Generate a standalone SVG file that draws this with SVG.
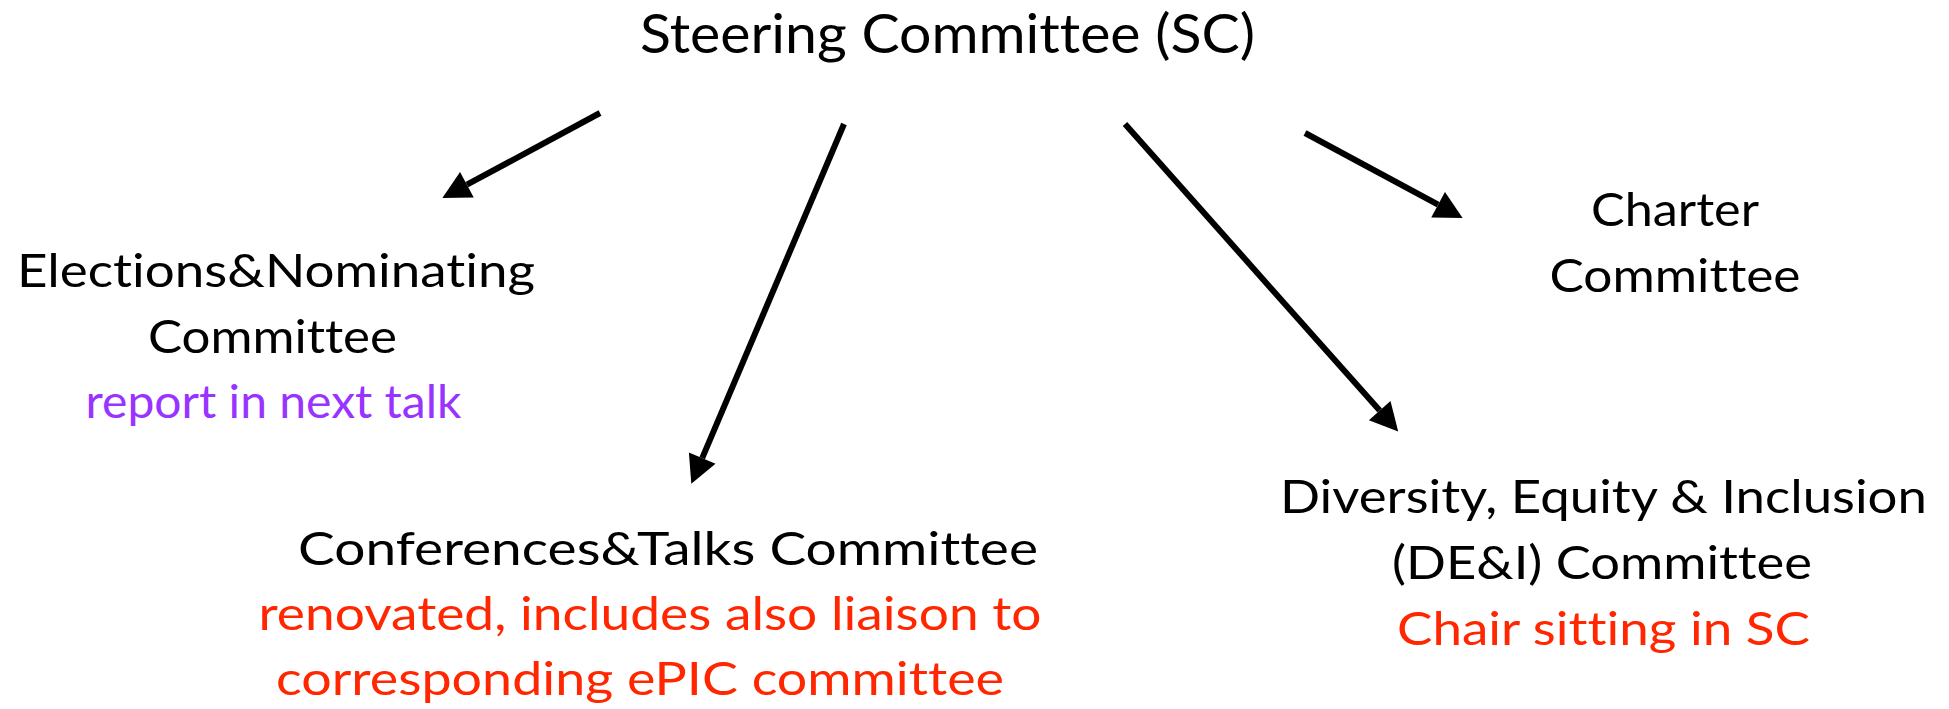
<svg xmlns="http://www.w3.org/2000/svg" width="1949" height="709" viewBox="0 0 1949 709">
<style>
text{font-family:Lato,"Open Sans","Liberation Sans",sans-serif;text-anchor:middle;font-variant-ligatures:none;}
.t{font-size:54px;fill:#000;}
.b{font-size:47px;fill:#000;}
.p{font-size:47px;fill:#9933FF;}
.r{font-size:47px;fill:#FF2600;}
.c{stroke:#000;stroke-width:6;fill:none;marker-end:url(#ah);}
</style>
<defs>
<marker id="ah" markerUnits="userSpaceOnUse" markerWidth="30" markerHeight="30" viewBox="0 -14 27 28" refX="0" refY="0" orient="auto">
<path d="M0,-13.5 L26,0 L0,13.5 Z" fill="#000"/>
</marker>
</defs>
<rect width="1949" height="709" fill="#fff"/>
<g id="sc">
<text class="t" x="947.5" y="53" textLength="615" lengthAdjust="spacingAndGlyphs">Steering Committee (SC)</text>
</g>
<g id="elections">
<text class="b" x="276" y="287" textLength="518" lengthAdjust="spacingAndGlyphs">Elections&amp;Nominating</text>
<text class="b" x="272.5" y="353" textLength="249" lengthAdjust="spacingAndGlyphs">Committee</text>
<text class="p" x="273.5" y="418" textLength="376" lengthAdjust="spacingAndGlyphs">report in next talk</text>
</g>
<g id="charter">
<text class="b" x="1675" y="226" textLength="168" lengthAdjust="spacingAndGlyphs">Charter</text>
<text class="b" x="1675" y="292" textLength="251" lengthAdjust="spacingAndGlyphs">Committee</text>
</g>
<g id="conferences">
<text class="b" x="668" y="565" textLength="740" lengthAdjust="spacingAndGlyphs">Conferences&amp;Talks Committee</text>
<text class="r" x="650" y="630" textLength="783" lengthAdjust="spacingAndGlyphs">renovated, includes also liaison to</text>
<text class="r" x="640" y="695" textLength="728" lengthAdjust="spacingAndGlyphs">corresponding ePIC committee</text>
</g>
<g id="dei">
<text class="b" x="1603.5" y="513" textLength="647" lengthAdjust="spacingAndGlyphs">Diversity, Equity &amp; Inclusion</text>
<text class="b" x="1602" y="579" textLength="420" lengthAdjust="spacingAndGlyphs">(DE&amp;I) Committee</text>
<text class="r" x="1603.5" y="645" textLength="413" lengthAdjust="spacingAndGlyphs">Chair sitting in SC</text>
</g>
<g id="connectors">
<line class="c" x1="600" y1="113" x2="466.9" y2="184.7"/>
<line class="c" x1="844" y1="124" x2="702.2" y2="458.1"/>
<line class="c" x1="1125" y1="124" x2="1379.7" y2="410.6"/>
<line class="c" x1="1305" y1="133" x2="1438.1" y2="204.7"/>
</g>
</svg>
